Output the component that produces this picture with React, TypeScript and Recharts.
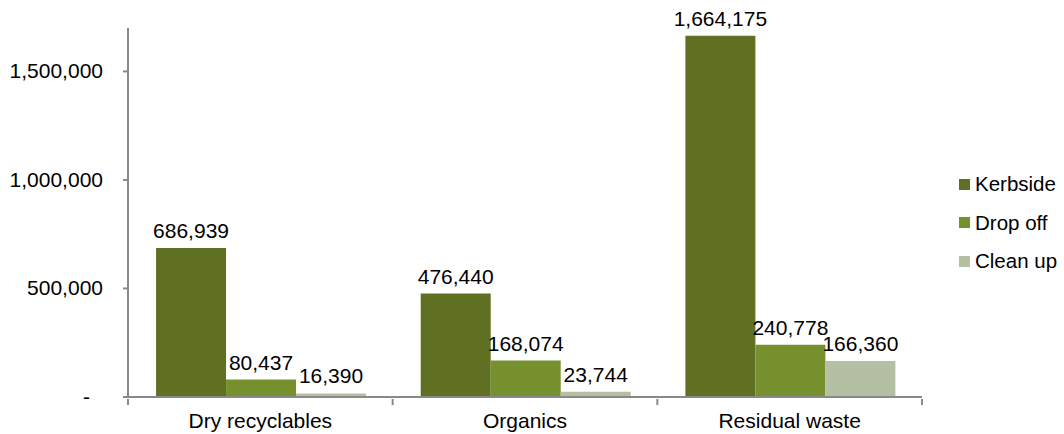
import React from "react";
import { BarChart, Bar, XAxis, YAxis, LabelList } from "recharts";

const categories = ["Dry recyclables", "Organics", "Residual waste"];
const kerbside = [686939, 476440, 1664175];
const dropOff = [80437, 168074, 240778];
const cleanUp = [16390, 23744, 166360];
const yTicks = [0, 500000, 1000000, 1500000];

const seriesInfo = [
  { key: "kerbside", name: "Kerbside", color: "#5f7022" },
  { key: "dropOff", name: "Drop off", color: "#77902e" },
  { key: "cleanUp", name: "Clean up", color: "#b4bfa3" },
];

const data = categories.map((c, i) => ({
  category: c,
  kerbside: kerbside[i],
  dropOff: dropOff[i],
  cleanUp: cleanUp[i],
}));

const FONT = "'Liberation Sans', Arial, sans-serif";
const FS = 21;
const AXIS = "#898989";
const fmt = (v: number) => v.toLocaleString("en-US");

const YTick = (props: any) => {
  const { x, y, payload } = props;
  const v = payload.value;
  return (
    <text
      x={v === 0 ? x - 13 : x}
      y={y}
      dy={7}
      textAnchor="end"
      fontFamily={FONT}
      fontSize={FS}
      fill="#000"
    >
      {v === 0 ? "-" : fmt(v)}
    </text>
  );
};

const XTick = (props: any) => {
  const { x, y, payload, index, visibleTicksCount } = props;
  const half = payload.offset || 0;
  const axisY = y - 2;
  return (
    <g>
      <line x1={x - half} x2={x - half} y1={axisY} y2={axisY + 6} stroke={AXIS} strokeWidth={2} />
      {index === visibleTicksCount - 1 && (
        <line x1={x + half} x2={x + half} y1={axisY} y2={axisY + 6} stroke={AXIS} strokeWidth={2} />
      )}
      <text x={x} y={y} dy={27} textAnchor="middle" fontFamily={FONT} fontSize={FS} fill="#000">
        {payload.value}
      </text>
    </g>
  );
};

export default function App() {
  return (
    <div style={{ position: "absolute", left: 0, top: 0, width: 1064, height: 434, background: "#fff" }}>
      <BarChart
        width={1064}
        height={434}
        data={data}
        margin={{ top: 28, right: 142, bottom: 0, left: 0 }}
        barCategoryGap="10.6%"
        barGap={0}
      >
        <XAxis
          dataKey="category"
          height={37}
          axisLine={{ stroke: AXIS, strokeWidth: 2 }}
          tickLine={false}
          tickSize={2}
          tick={<XTick />}
          interval={0}
        />
        <YAxis
          width={128}
          domain={[0, 1700000]}
          ticks={yTicks}
          allowDataOverflow
          axisLine={{ stroke: AXIS, strokeWidth: 2 }}
          tickLine={{ stroke: AXIS, strokeWidth: 2 }}
          tickSize={5}
          tickMargin={20}
          tick={<YTick />}
        />
        {seriesInfo.map((s) => (
          <Bar key={s.key} dataKey={s.key} name={s.name} fill={s.color} isAnimationActive={false}>
            <LabelList
              dataKey={s.key}
              position="top"
              offset={10}
              formatter={(v: any) => fmt(Number(v))}
              style={{ fontFamily: FONT, fontSize: FS, fill: "#000" }}
            />
          </Bar>
        ))}
      </BarChart>
      <div
        style={{
          position: "absolute",
          left: 959,
          top: 165,
          fontFamily: FONT,
          fontSize: 20.5,
          color: "#000",
        }}
      >
        {seriesInfo.map((s) => (
          <div key={s.key} style={{ display: "flex", alignItems: "center", height: 38.5 }}>
            <span style={{ width: 11, height: 11, background: s.color, display: "inline-block", marginRight: 5 }} />
            <span>{s.name}</span>
          </div>
        ))}
      </div>
    </div>
  );
}
